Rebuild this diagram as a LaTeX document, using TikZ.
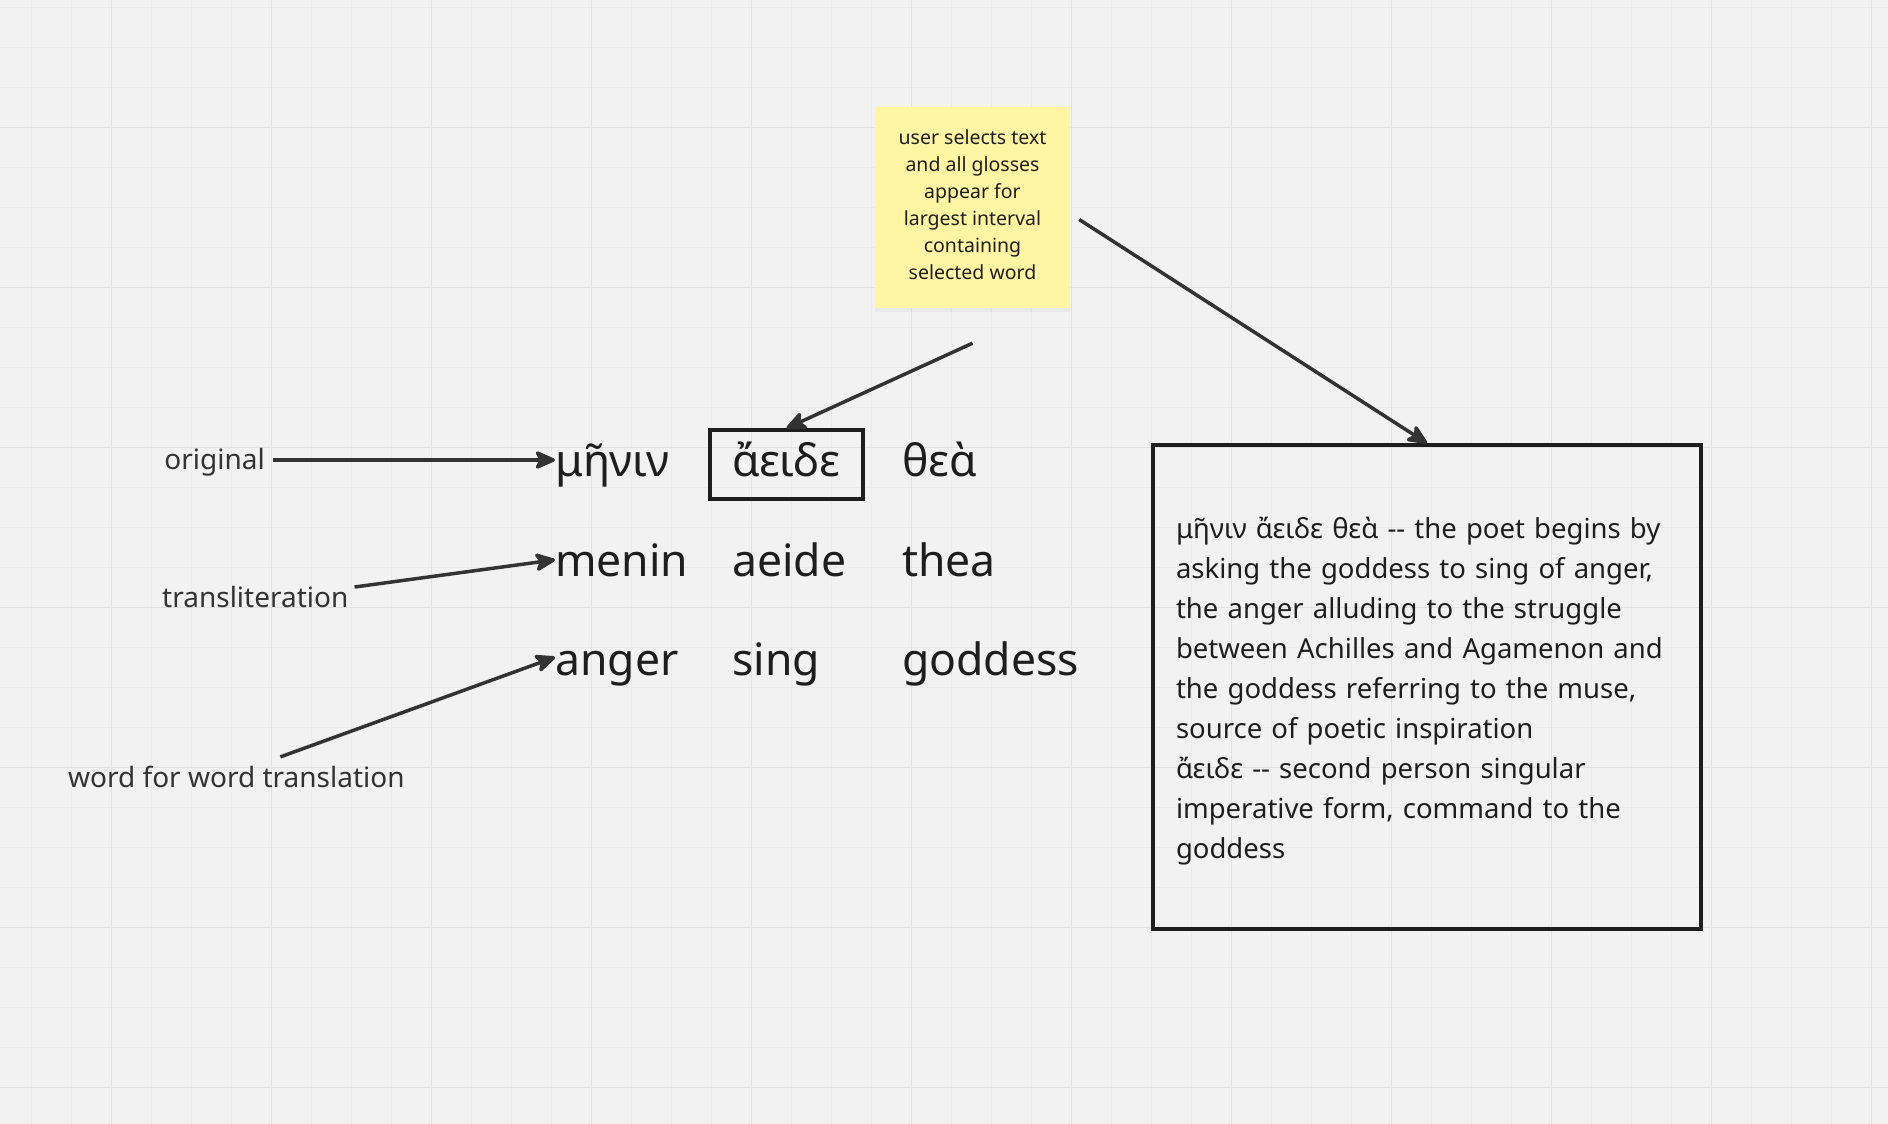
\documentclass[tikz,border=0pt]{standalone}
\usepackage{fontspec}
\setmainfont{Noto Sans}
\usepackage{tikz}
\usetikzlibrary{arrows.meta}
\usetikzlibrary{shadows}

\definecolor{hintergrund}{HTML}{F2F2F2}
\definecolor{gitterklein}{HTML}{EBEBEB}
\definecolor{gittergross}{HTML}{E1E1E1}
\definecolor{notizgelb}{HTML}{FFF5A3}
\definecolor{tinte}{HTML}{1E1E1E}
\definecolor{pfeilgrau}{HTML}{333333}

\tikzset{
    pfeil/.style={draw=pfeilgrau, line width=3.5pt, -{Stealth[length=24pt, width=21pt, inset=6pt, round]}},
    wort/.style={anchor=base west, inner sep=0pt, text=tinte, font=\fontsize{44.5}{52}\selectfont},
    etikett/.style={inner sep=0pt, text=pfeilgrau, font=\fontsize{28}{34}\selectfont},
}

\begin{document}
\begin{tikzpicture}[x=1pt, y=-1pt]
    % Hintergrund und Gitter
    \useasboundingbox (0,0) rectangle (1888,1124);
    \fill[hintergrund] (0,0) rectangle (1888,1124);
    \foreach \x in {31.7,71.7,...,1888} \draw[gitterklein, line width=1pt] (\x,0) -- (\x,1124);
    \foreach \y in {7.7,47.7,...,1124} \draw[gitterklein, line width=1pt] (0,\y) -- (1888,\y);
    \foreach \x in {111.7,271.7,...,1888} \draw[gittergross, line width=1.5pt] (\x,0) -- (\x,1124);
    \foreach \y in {127.7,287.7,...,1124} \draw[gittergross, line width=1.5pt] (0,\y) -- (1888,\y);

    % Notizzettel
    \node[fill=notizgelb, minimum width=195pt, minimum height=201pt, align=center,
          text=tinte, font=\fontsize{19.5}{27}\selectfont,
          drop shadow={opacity=0.08, shadow xshift=0pt, shadow yshift=-4pt}]
        (notiz) at (972.5,207.5)
        {user selects text\\and all glosses\\appear for\\largest interval\\containing\\selected word\rule[-5pt]{0pt}{5pt}};

    % Zeile 1: Original
    \node[wort] (w11) at (555,476) {μῆνιν};
    \node[anchor=base, draw=tinte, line width=3.5pt, text=tinte, font=\fontsize{44.5}{52}\selectfont,
          minimum width=153pt, text height=33pt, text depth=10pt, inner ysep=13pt]
        (aeide) at (786.5,476) {ἄειδε};
    \node[wort] (w13) at (902,476) {θεὰ};

    % Zeile 2: Transliteration
    \node[wort] (w21) at (555,576) {menin};
    \node[wort] (w22) at (732,576) {aeide};
    \node[wort] (w23) at (902,576) {thea};

    % Zeile 3: Übersetzung
    \node[wort] (w31) at (555,675) {anger};
    \node[wort] (w32) at (732,675) {sing};
    \node[wort] (w33) at (902,675) {goddess};

    % Beschriftungen links
    \node[etikett, anchor=east, text height=21pt, text depth=3pt] (orig) at (265,460) {original};
    \node[etikett, anchor=base west] (trans) at (162,607.5) {transliteration};
    \node[etikett, anchor=base west] (wfw) at (68,787.5) {word for word translation};

    % Glosse
    \node[draw=tinte, line width=3.5pt, text width=502pt, inner xsep=23pt,
          minimum height=484pt, align=left, text=tinte, font=\fontsize{27.5}{40}\selectfont]
        (glosse) at (1427,687)
        {\rule{0pt}{30pt}μῆνιν ἄειδε θεὰ -{}- the poet begins by\\
         asking the goddess to sing of anger,\\
         the anger alluding to the struggle\\
         between Achilles and Agamenon and\\
         the goddess referring to the muse,\\
         source of poetic inspiration\\
         ἄειδε -{}- second person singular\\
         imperative form, command to the\\
         goddess};

    % Pfeile
    \draw[pfeil] ([xshift=8pt]orig.east) -- (w11.west |- orig.east);
    \draw[pfeil] ([xshift=6pt, yshift=-1pt]trans.north east) -- (w21.west);
    \draw[pfeil] ([xshift=44pt, yshift=9pt]wfw.north) -- ([yshift=11pt]w31.west);
    \draw[pfeil] ([yshift=-35pt]notiz.south) -- (aeide.north);
    \draw[pfeil] ([xshift=9pt, yshift=-12pt]notiz.east) -- (glosse.north);
\end{tikzpicture}
\end{document}
